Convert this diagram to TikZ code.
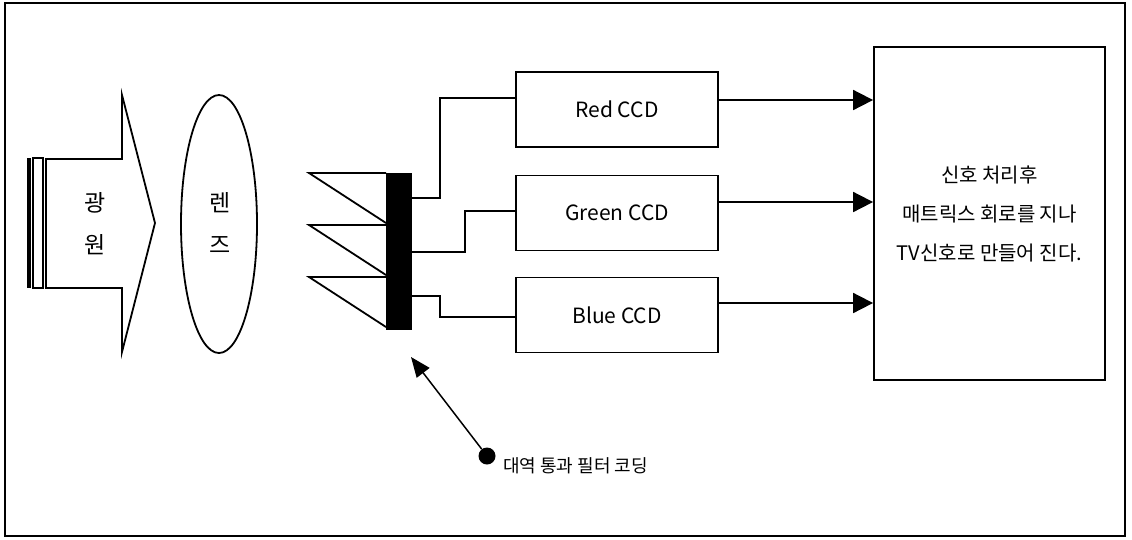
\documentclass[tikz,border=0pt]{standalone}
\usepackage{fontspec}
\setmainfont{Noto Sans CJK KR}
\usetikzlibrary{arrows.meta,calc}
\begin{document}
\begin{tikzpicture}[x=1pt,y=-1pt,
  ln/.style={line width=1.8pt},
  ccdbox/.style={draw,line width=1.8pt,minimum width=202pt,minimum height=75pt,inner sep=0pt,font=\fontsize{21}{24}\selectfont},
  kor/.style={font=\fontsize{23}{26}\selectfont,inner sep=0pt},
  outarrow/.style={line width=1.8pt,-{Triangle[length=20pt,width=20pt]}},
]
\useasboundingbox (0,0) rectangle (1132,539);
% frame
\draw[line width=1.5pt] (5,3) rectangle (1125,536);

% light source
\fill (26.5,158) rectangle (31,288);
\draw[ln] (33,158) rectangle (43,288);
\draw[ln,line join=miter] (46,159) -- (122,159) -- (122,95) -- (155,223) -- (122,352) -- (122,288) -- (46,288) -- cycle;
\node[kor] (g1) at (95,203) {광};
\node[kor] (g2) at (95,245) {원};

% lens
\draw[ln] (219,224) ellipse [x radius=38, y radius=129];
\node[kor] (l1) at (220,203) {렌};
\node[kor] (l2) at (220,245) {즈};

% prisms
\foreach \y in {173,225,277}{
  \draw[ln,line join=miter] (386,\y) -- (309,\y) -- (386,\y+50);
}
% filter bar
\node[fill=black,draw=black,minimum width=25pt,minimum height=156pt,inner sep=0pt] (bar) at (398.5,251) {};

% CCD boxes
\node[ccdbox] (red) at (617,109.5) {Red CCD};
\node[ccdbox] (green) at (617,213) {Green CCD};
\node[ccdbox] (blue) at (617,315) {Blue CCD};

% big box
\node[draw,line width=1.8pt,minimum width=231pt,minimum height=333pt,inner sep=0pt,align=center,
      font=\fontsize{20}{39}\selectfont] (big) at (989.5,213.5)
  {신호 처리후\\매트릭스 회로를 지나\\TV신호로 만들어 진다.};

% connectors bar -> CCDs
\draw[ln] ([yshift=53pt]bar.east) -- ++(29,0) |- ([yshift=11.5pt]red.west);
\draw[ln] ([yshift=-1pt]bar.east) -- ++(54,0) |- ([yshift=2pt]green.west);
\draw[ln] ([yshift=-45pt]bar.east) -- ++(29,0) |- ([yshift=-2pt]blue.west);

% CCDs -> big box
\draw[outarrow] ([yshift=9.5pt]red.east) -- ([yshift=9.5pt]red.east -| big.west);
\draw[outarrow] ([yshift=11pt]green.east) -- ([yshift=11pt]green.east -| big.west);
\draw[outarrow] ([yshift=12pt]blue.east) -- ([yshift=12pt]blue.east -| big.west);

% pointer
\node[circle,fill=black,minimum size=17pt,inner sep=0pt] (dot) at (487,456) {};
\coordinate (tip) at (411,357);
\draw[line width=1.5pt,-{Triangle[length=20pt,width=16pt]}] (dot) -- (tip);
\node[kor,anchor=west,font=\fontsize{18}{20}\selectfont] (lbl) at (503,466) {대역 통과 필터 코딩};
\end{tikzpicture}
\end{document}
